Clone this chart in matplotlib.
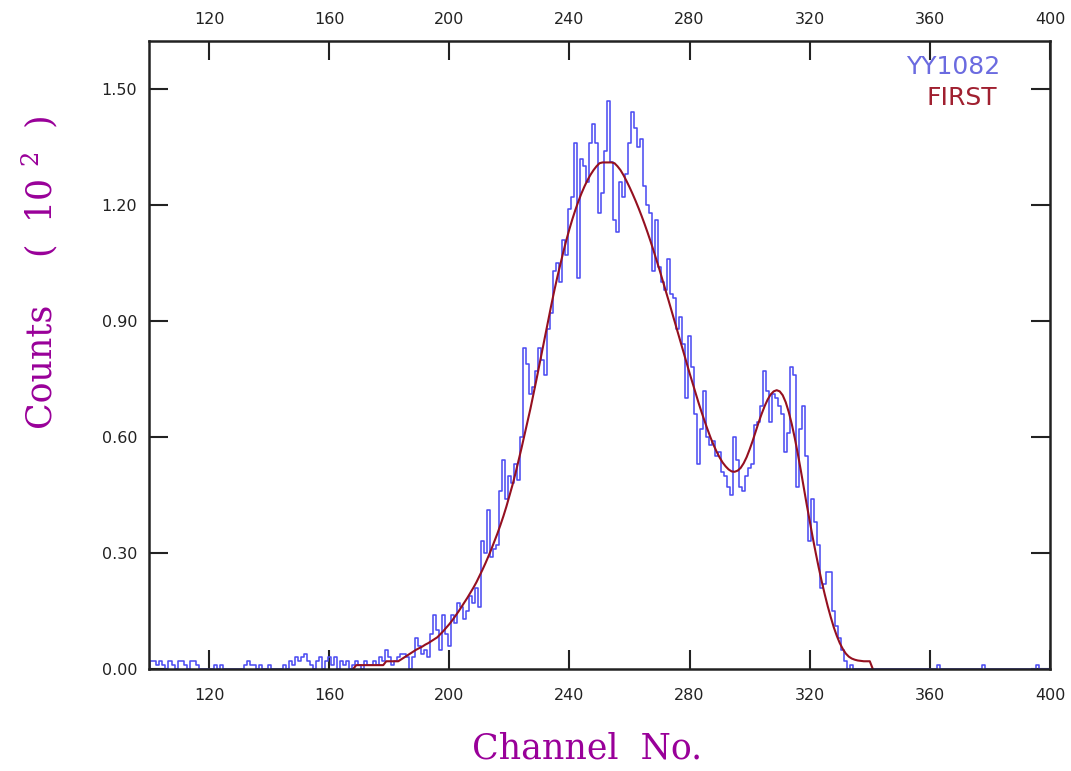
import numpy as np
import matplotlib
matplotlib.use('Agg')
import matplotlib.pyplot as plt

plt.rcParams['mathtext.fontset'] = 'dejavuserif'

# measured spectrum YY1082, counts per channel, channel 100 .. 400
canal_ini = 100
contagens = [
    0, 2, 2, 1, 2, 1, 0, 2, 1, 0,            # 100
    2, 2, 1, 0, 2, 2, 1, 0, 0, 0,            # 110
    0, 0, 1, 0, 1, 0, 0, 0, 0, 0,            # 120
    0, 0, 1, 2, 1, 1, 0, 1, 0, 0,            # 130
    1, 0, 0, 0, 0, 1, 0, 2, 1, 3,            # 140
    2, 3, 4, 2, 1, 0, 2, 3, 0, 2,            # 150
    3, 1, 3, 0, 2, 1, 2, 0, 1, 2,            # 160
    1, 0, 2, 1, 1, 2, 1, 3, 2, 5,            # 170
    3, 1, 2, 3, 4, 4, 3, 0, 3, 8,            # 180
    6, 4, 5, 3, 9, 14, 10, 5, 14, 9,         # 190
    6, 14, 12, 17, 16, 13, 15, 19, 17, 21,   # 200
    16, 33, 30, 41, 29, 31, 32, 46, 54, 44,  # 210
    50, 48, 53, 49, 60, 83, 79, 71, 73, 77,  # 220
    83, 80, 76, 88, 92, 103, 105, 100, 111, 107,   # 230
    119, 122, 136, 101, 132, 130, 126, 136, 141, 136,  # 240
    118, 123, 134, 147, 131, 116, 113, 126, 122, 128,  # 250
    136, 144, 140, 135, 137, 125, 120, 118, 103, 116,  # 260
    104, 100, 98, 106, 97, 96, 88, 91, 84, 70,   # 270
    86, 78, 66, 53, 62, 72, 60, 58, 59, 55,      # 280
    56, 51, 50, 47, 45, 60, 54, 47, 46, 50,      # 290
    52, 53, 63, 64, 68, 77, 72, 64, 71, 70,      # 300
    68, 66, 56, 61, 78, 76, 47, 62, 68, 55,      # 310
    33, 44, 38, 32, 21, 22, 25, 25, 15, 11,      # 320
    8, 5, 2, 0, 1, 0, 0, 0, 0, 0,                # 330
    0, 0, 0, 0, 0, 0, 0, 0, 0, 0,                # 340
    0, 0, 0, 0, 0, 0, 0, 0, 0, 0,                # 350
    0, 0, 0, 1, 0, 0, 0, 0, 0, 0,                # 360
    0, 0, 0, 0, 0, 0, 0, 0, 1, 0,                # 370
    0, 0, 0, 0, 0, 0, 0, 0, 0, 0,                # 380
    0, 0, 0, 0, 0, 0, 1, 0, 0, 0,                # 390
    0,                                           # 400
]

# fitted curve FIRST (units of 10^2), channel 168 .. 341
fit_ini = 168
ajuste = [
    0.00, 0.01, 0.01, 0.01, 0.01, 0.01, 0.01, 0.01, 0.01, 0.01,
    0.01, 0.02, 0.02, 0.02, 0.02, 0.02, 0.025, 0.03, 0.035, 0.04,
    0.045, 0.05, 0.054, 0.058, 0.063, 0.067, 0.072, 0.077, 0.082, 0.09,
    0.098, 0.107, 0.116, 0.126, 0.137, 0.148, 0.16, 0.172, 0.184, 0.197,
    0.21, 0.224, 0.24, 0.256, 0.273, 0.291, 0.31, 0.33, 0.35, 0.372,
    0.395, 0.42, 0.447, 0.475, 0.505, 0.537, 0.57, 0.604, 0.638, 0.673,
    0.71, 0.748, 0.787, 0.826, 0.865, 0.904, 0.943, 0.98, 1.015, 1.048,
    1.08, 1.11, 1.138, 1.164, 1.188, 1.21, 1.23, 1.248, 1.264, 1.278,
    1.29, 1.30, 1.308, 1.31, 1.31, 1.31, 1.31, 1.308, 1.30, 1.29,
    1.277, 1.262, 1.246, 1.229, 1.211, 1.192, 1.172, 1.151, 1.129, 1.106,
    1.082, 1.057, 1.032, 1.006, 0.98, 0.953, 0.926, 0.899, 0.872, 0.845,
    0.818, 0.791, 0.765, 0.739, 0.713, 0.688, 0.664, 0.641, 0.619, 0.598,
    0.579, 0.562, 0.547, 0.534, 0.524, 0.516, 0.511, 0.51, 0.513, 0.52,
    0.532, 0.548, 0.568, 0.59, 0.614, 0.638, 0.66, 0.68, 0.697, 0.71,
    0.718, 0.721, 0.718, 0.708, 0.69, 0.665, 0.634, 0.598, 0.558, 0.515,
    0.47, 0.425, 0.382, 0.34, 0.30, 0.262, 0.226, 0.193, 0.162, 0.134,
    0.108, 0.086, 0.067, 0.052, 0.04, 0.032, 0.027, 0.024, 0.022, 0.021,
    0.02, 0.02, 0.02, 0.00,
]

xticks = [120, 160, 200, 240, 280, 320, 360, 400]
yticks = [0.0, 0.3, 0.6, 0.9, 1.2, 1.5]

canais = np.arange(canal_ini, canal_ini + len(contagens))
canais_fit = np.arange(fit_ini, fit_ini + len(ajuste))
y_med = np.array(contagens) / 100.0

fig = plt.figure(figsize=(10.71, 7.71), dpi=100)
ax = fig.add_axes([0.1391, 0.1323, 0.8413, 0.8145])

ax.plot(canais, y_med, drawstyle='steps-mid', color='#4d4df2', lw=1.15)
ax.plot(canais_fit, ajuste, color='#951020', lw=1.5)

ax.set_xlim(100, 400)
ax.set_ylim(0, 1.624)
ax.set_xticks(xticks)
ax.set_yticks(yticks)
ax.set_yticklabels(['%.2f' % v for v in yticks])

for s in ax.spines.values():
    s.set_linewidth(1.8)
    s.set_color('#222222')

ax.tick_params(axis='both', direction='in', length=14, width=1.5,
               labelsize=11.5, labelcolor='#222222', color='#222222')
ax.tick_params(axis='x', top=True, pad=14)
ax.tick_params(axis='y', right=True, pad=8.5)

# labels on top
sec = ax.secondary_xaxis('top')
sec.set_xticks(xticks)
sec.tick_params(direction='in', length=0, pad=10, labelsize=11.5, labelcolor='#222222')
sec.spines['top'].set_visible(False)

# legend as coloured text
ax.text(0.9445, 0.9586, 'YY1082', transform=ax.transAxes, ha='right', va='center',
        fontsize=18, color='#6b6be0')
ax.text(0.941, 0.909, 'FIRST', transform=ax.transAxes, ha='right', va='center',
        fontsize=18, color='#a02030')

purp = '#990099'
fig.text(0.5486, 0.0298, 'Channel  No.', ha='center', va='center',
         family='DejaVu Serif', fontsize=25, color=purp)
fig.text(0.0373, 0.5266, 'Counts', rotation=90, ha='center', va='center',
         family='DejaVu Serif', fontsize=25, color=purp)
fig.text(0.037, 0.758, r'(  10 $^{2}$  )', rotation=90, ha='center', va='center',
         family='DejaVu Serif', fontsize=25, color=purp)

fig.savefig('out.png', dpi=100, facecolor='white')
